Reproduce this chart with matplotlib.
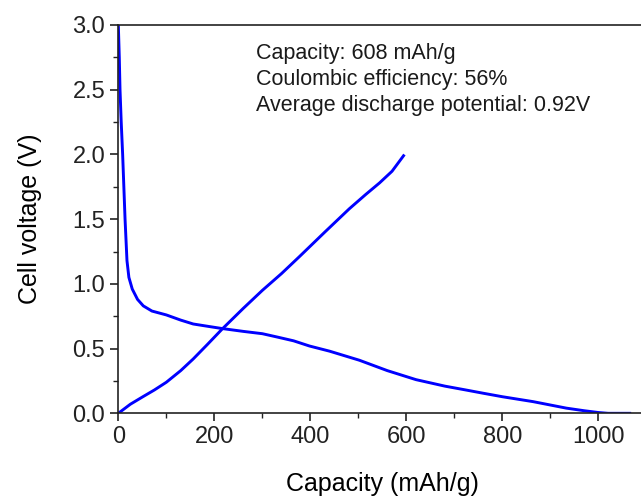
"""Galvanostatic first-cycle discharge/charge profile."""

import matplotlib

matplotlib.use("Agg")
import matplotlib.pyplot as plt
from matplotlib.ticker import MultipleLocator

plt.rcParams["font.family"] = ["Liberation Sans", "DejaVu Sans"]

# discharge branch (capacity in mAh/g, voltage in V)
discharge_cap = [0, 2, 3.5, 6, 9, 12, 14, 18, 22, 29, 40, 52, 70, 100, 130, 156,
                 190, 216, 260, 300, 330, 365, 398, 440, 502, 560, 620, 680,
                 724, 760, 800, 864, 933, 970, 1000, 1020, 1065]
discharge_v = [3.0, 2.75, 2.5, 2.25, 2.0, 1.7, 1.5, 1.18, 1.05, 0.96, 0.88, 0.83,
               0.79, 0.76, 0.72, 0.69, 0.67, 0.655, 0.633, 0.615, 0.59, 0.56,
               0.52, 0.48, 0.41, 0.33, 0.26, 0.21, 0.18, 0.155, 0.128, 0.09,
               0.04, 0.02, 0.006, 0.0, 0.0]

# charge branch
charge_cap = [0, 25, 52, 75, 100, 130, 156, 185, 216, 260, 300, 340, 377, 430,
              481, 515, 544, 570, 594]
charge_v = [0.0, 0.07, 0.13, 0.18, 0.24, 0.33, 0.42, 0.53, 0.65, 0.81, 0.95,
            1.08, 1.21, 1.40, 1.58, 1.69, 1.78, 1.87, 1.99]

notes = [
    "Capacity: 608 mAh/g",
    "Coulombic efficiency: 56%",
    "Average discharge potential: 0.92V",
]
note_y = [2.78, 2.58, 2.38]


def main() -> None:
    fig = plt.figure(figsize=(6.41, 4.97), dpi=100)
    ax = fig.add_axes([0.1846, 0.1684, 0.824, 0.7813])

    ax.plot(discharge_cap, discharge_v, color="#0000FF", lw=2.1)
    ax.plot(charge_cap, charge_v, color="#0000FF", lw=2.1)

    for text, y in zip(notes, note_y):
        ax.text(287, y, text, fontsize=15.5, va="center", ha="left", color="#1a1a1a")

    ax.set_xlim(0, 1100)
    ax.set_ylim(0, 3.0)
    ax.xaxis.set_major_locator(MultipleLocator(200))
    ax.xaxis.set_minor_locator(MultipleLocator(100))
    ax.yaxis.set_major_locator(MultipleLocator(0.5))
    ax.yaxis.set_minor_locator(MultipleLocator(0.25))
    ax.yaxis.set_major_formatter(plt.FormatStrFormatter("%.1f"))

    ax.tick_params(which="major", direction="out", length=5.5, width=1.2,
                   labelsize=17, colors="#222222", pad=4)
    ax.tick_params(which="minor", direction="out", length=3.5, width=1.0,
                   colors="#222222")
    ax.tick_params(top=False, right=False, which="both")
    ax.spines["right"].set_visible(False)
    for side in ("left", "bottom", "top"):
        ax.spines[side].set_linewidth(1.2)
        ax.spines[side].set_color("#222222")

    ax.set_xlabel("Capacity (mAh/g)", fontsize=18, labelpad=17)
    ax.set_ylabel("Cell voltage (V)", fontsize=18, labelpad=22)

    fig.savefig("out.png", dpi=100)
    plt.close(fig)


if __name__ == "__main__":
    main()
